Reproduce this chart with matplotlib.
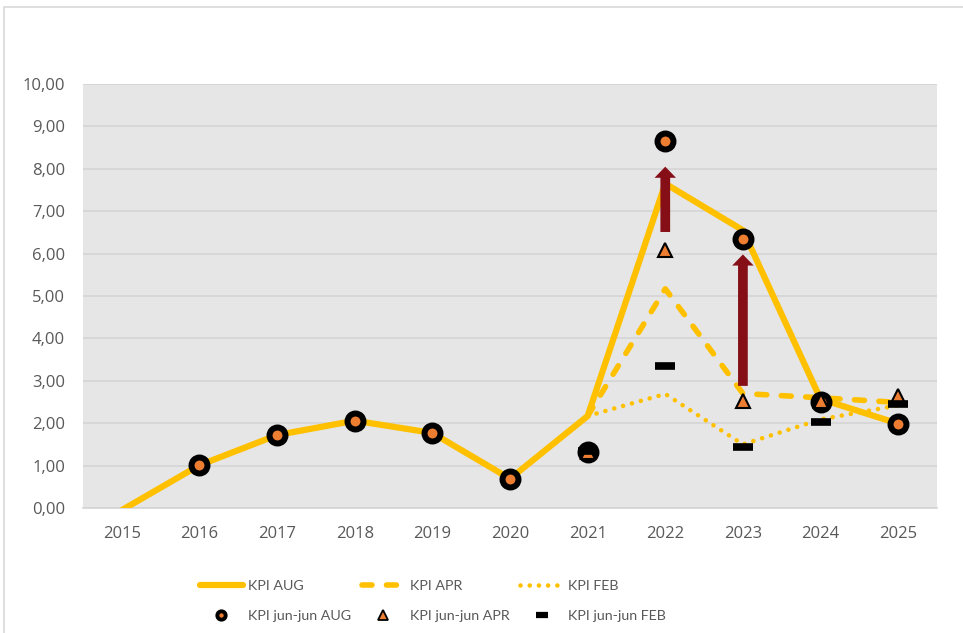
import numpy as np
import matplotlib.pyplot as plt
from matplotlib.lines import Line2D
from matplotlib.patches import Rectangle
from matplotlib.ticker import FuncFormatter

plt.rcParams['font.family'] = ['Open Sans', 'DejaVu Sans']

nan = np.nan

# Data
years = ["2015", "2016", "2017", "2018", "2019", "2020",
         "2021", "2022", "2023", "2024", "2025"]

kpi_aug = [-0.05, 1.01, 1.72, 2.06, 1.77, 0.69, 2.17, 7.65, 6.55, 2.57, 1.99]
kpi_apr = [nan, nan, nan, nan, nan, nan, 2.17, 5.17, 2.70, 2.60, 2.49]
kpi_feb = [nan, nan, nan, nan, nan, nan, 2.17, 2.69, 1.50, 2.09, 2.42]

jun_aug = [nan, 1.01, 1.72, 2.06, 1.77, 0.69, 1.33, 8.66, 6.35, 2.51, 1.99]
jun_apr = [nan, nan, nan, nan, nan, nan, 1.31, 6.08, 2.53, 2.53, 2.65]
jun_feb = [nan, nan, nan, nan, nan, nan, 1.34, 3.34, 1.45, 2.03, 2.45]

# Arrows (category index, start value, end value)
arrow_idx = [7, 8]
arrow_from = [6.51, 2.88]
arrow_to = [8.05, 5.98]

# Colours
gold = "#FFC000"
orange = "#ED7D31"
darkred = "#850E17"
text_col = "#595959"

x = np.arange(len(years))

fig = plt.figure(figsize=(9.63, 6.33), dpi=100)
ax = fig.add_axes([83 / 963, 1 - 508 / 633, (937 - 83) / 963, (508 - 84) / 633])
ax.set_facecolor("#E6E6E6")

# Lines
ax.plot(x, kpi_aug, color=gold, lw=4.5, solid_capstyle="round",
        solid_joinstyle="miter", zorder=3)
ax.plot(x, kpi_apr, color=gold, lw=4, dashes=(1.8, 2.6),
        dash_capstyle="round", zorder=3)
ax.plot(x, kpi_feb, color=gold, lw=3.3, dashes=(0.01, 2.0),
        dash_capstyle="round", zorder=3)

# Markers
ax.plot(x, jun_aug, ls="none", marker="o", ms=11.5, mew=4.3,
        mfc=orange, mec="black", zorder=4)
ax.plot(x, jun_apr, ls="none", marker="^", ms=9.5, mew=1.5,
        mfc=orange, mec="black", zorder=5)
ax.plot(x, jun_feb, ls="none", marker="_", ms=14, mew=5.5,
        color="black", zorder=6)

# Arrows
for i, a, b in zip(arrow_idx, arrow_from, arrow_to):
    ax.annotate("", xy=(i, b), xytext=(i, a),
                arrowprops=dict(width=7, headwidth=15.5, headlength=8,
                                facecolor=darkred, edgecolor="none",
                                shrink=0),
                zorder=7)

ax.set_xlim(-0.5, len(years) - 0.5)
ax.set_ylim(0, 10)
ax.set_xticks(x)
ax.set_xticklabels(years)
ax.set_yticks(np.arange(0, 11, 1))
ax.yaxis.set_major_formatter(FuncFormatter(lambda v, p: f"{v:.2f}".replace(".", ",")))
ax.tick_params(length=0, labelsize=12, colors=text_col, pad=13)

ax.grid(axis="y", color="#D4D4D4", lw=1.2)
ax.set_axisbelow(True)
for s in ["top", "right", "left"]:
    ax.spines[s].set_visible(False)
ax.spines["bottom"].set_color("#D4D4D4")
ax.spines["bottom"].set_linewidth(1.2)

# Legend
handles = [
    Line2D([], [], color=gold, lw=4.5, solid_capstyle="round"),
    Line2D([], [], ls="none", marker="o", ms=6, mew=2.8, mfc=orange, mec="black"),
    Line2D([], [], color=gold, lw=4, dashes=(1.8, 2.6), dash_capstyle="round"),
    Line2D([], [], ls="none", marker="^", ms=7.5, mew=1.3, mfc=orange, mec="black"),
    Line2D([], [], color=gold, lw=3.3, dashes=(0.01, 2.0), dash_capstyle="round"),
    Line2D([], [], ls="none", marker="_", ms=8, mew=4.5, color="black"),
]
labels = ["KPI AUG", "KPI jun-jun AUG", "KPI APR", "KPI jun-jun APR",
          "KPI FEB", "KPI jun-jun FEB"]
leg = fig.legend(handles, labels, ncol=3, loc="center left",
                 bbox_to_anchor=(200 / 963, 1 - 601 / 633),
                 frameon=False, handlelength=3.0, borderpad=0,
                 borderaxespad=0, handletextpad=0.35, columnspacing=0.75,
                 labelspacing=1.2,
                 prop=dict(family=["Lato", "Open Sans"], size=10.3))
for t in leg.get_texts():
    t.set_color(text_col)

# Chart frame
fig.add_artist(Rectangle((4 / 963, -0.1), 1.2, 1.1 - 7 / 633,
                         transform=fig.transFigure, fill=False,
                         ec="#D9D9D9", lw=1.2))

fig.savefig("out.png", dpi=100)
